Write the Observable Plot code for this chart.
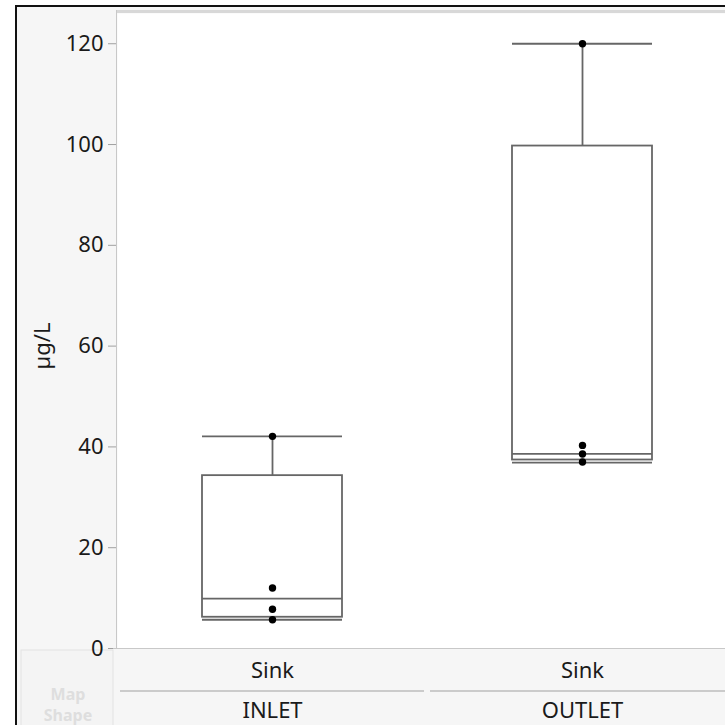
<!DOCTYPE html>
<html>
<head>
<meta charset="utf-8">
<script src="https://cdn.jsdelivr.net/npm/d3@7"></script>
<script src="https://cdn.jsdelivr.net/npm/@observablehq/plot@0.6"></script>
<style>
  html, body { margin: 0; padding: 0; background: #ffffff; }
  #wrap { position: absolute; left: 15px; top: 5px; border-left: 2px solid #111; border-top: 2px solid #111; width: 708px; height: 718px; overflow: hidden; }
  #wrap svg { display: block; }
</style>
</head>
<body>
<div id="wrap"></div>
<script>
// ---- data ----
const groups       = ["INLET", "OUTLET"];
const subLabels    = ["Sink", "Sink"];
const whiskerLow   = [5.7, 36.9];
const quartile1    = [6.2, 37.4];
const medians      = [9.9, 38.6];
const quartile3    = [34.3, 99.7];
const whiskerHigh  = [42.1, 120];
const pointGroup   = ["INLET", "INLET", "INLET", "INLET", "OUTLET", "OUTLET", "OUTLET", "OUTLET"];
const pointValue   = [42.1, 12.0, 7.8, 5.7, 120, 40.3, 38.6, 37.0];
const yTicks       = [0, 20, 40, 60, 80, 100, 120];
const yLabel       = "µg/L";

const boxes = groups.map((g, i) => ({
  group: g, sub: subLabels[i], lo: whiskerLow[i], q1: quartile1[i],
  med: medians[i], q3: quartile3[i], hi: whiskerHigh[i]
}));
const points = pointGroup.map((g, i) => ({group: g, value: pointValue[i]}));

const W = 708, H = 718;
const boxStroke = "#666666";
const sw = 1.8;
const inset = 85;
const txt = "#1a1a1a";

const plot = Plot.plot({
  width: W, height: H,
  marginLeft: 100, marginRight: 0, marginTop: 6, marginBottom: 77,
  style: {background: "#f6f6f6", fontFamily: "'Noto Sans', sans-serif", fontSize: "22px", color: txt, overflow: "visible"},
  x: {domain: groups, range: [100, 720], padding: 0, axis: null},
  y: {domain: [0, 126], axis: null},
  marks: [
    Plot.frame({fill: "white", stroke: null}),
    Plot.axisY({ticks: yTicks, tickSize: 9, tickPadding: 5, fontSize: 22, stroke: "#a0a0a0", fill: txt, label: null, tickFormat: d => d}),
    Plot.ruleX(boxes, {x: "group", y1: "q3", y2: "hi", stroke: boxStroke, strokeWidth: sw}),
    Plot.ruleX(boxes, {x: "group", y1: "lo", y2: "q1", stroke: boxStroke, strokeWidth: sw}),
    Plot.barY(boxes, {x: "group", y1: "q1", y2: "q3", fill: "white", stroke: boxStroke, strokeWidth: sw, insetLeft: inset, insetRight: inset}),
    Plot.tickY(boxes, {x: "group", y: "med", stroke: boxStroke, strokeWidth: sw, insetLeft: inset, insetRight: inset}),
    Plot.tickY(boxes, {x: "group", y: "hi", stroke: boxStroke, strokeWidth: sw, insetLeft: inset, insetRight: inset}),
    Plot.tickY(boxes, {x: "group", y: "lo", stroke: boxStroke, strokeWidth: sw, insetLeft: inset, insetRight: inset}),
    Plot.dot(points, {x: "group", y: "value", r: 3.7, fill: "black", stroke: null}),
    Plot.text([yLabel], {frameAnchor: "left", textAnchor: "middle", lineAnchor: "middle", dx: -75, dy: 15, rotate: -90, fontSize: 22, fill: txt}),
    Plot.text(boxes, {x: "group", text: "sub", frameAnchor: "bottom", lineAnchor: "middle", dy: 22, fontSize: 22, fill: txt}),
    Plot.text(boxes, {x: "group", text: "group", frameAnchor: "bottom", lineAnchor: "middle", dy: 62, fontSize: 22, fill: txt})
  ]
});

// decorations: panel borders, separators, faded "Map Shape" box
const svgSel = d3.select(plot);
const xs = plot.scale("x");
const bw = xs.bandwidth;
const bottomY = H - 77;
const under = svgSel.insert("g", ":first-child");
under.append("rect").attr("x", 4).attr("y", bottomY + 2).attr("width", 92).attr("height", 80)
  .attr("fill", "#f4f4f4").attr("stroke", "#e2e2e2");
under.append("text").attr("x", 51).attr("y", bottomY + 52).attr("text-anchor", "middle")
  .attr("font-family", "'Noto Sans', sans-serif").attr("font-size", 16).attr("font-weight", "bold").attr("fill", "#dedede").text("Map");
under.append("text").attr("x", 51).attr("y", bottomY + 73).attr("text-anchor", "middle")
  .attr("font-family", "'Noto Sans', sans-serif").attr("font-size", 16).attr("font-weight", "bold").attr("fill", "#dedede").text("Shape");
const over = svgSel.append("g");
over.append("rect").attr("x", 100).attr("y", 3).attr("width", W - 100).attr("height", 3).attr("fill", "#d8d8d8");
over.append("line").attr("x1", 96).attr("x2", W).attr("y1", bottomY + 0.5).attr("y2", bottomY + 0.5).attr("stroke", "#c8c8c8");
over.append("line").attr("x1", 99.5).attr("x2", 99.5).attr("y1", 3).attr("y2", bottomY).attr("stroke", "#c8c8c8");
groups.forEach(g => {
  const x0 = xs.apply(g);
  over.append("line").attr("x1", x0 + 3).attr("x2", x0 + bw - 3)
    .attr("y1", bottomY + 43).attr("y2", bottomY + 43).attr("stroke", "#bdbdbd").attr("stroke-width", 1.5);
});

document.getElementById("wrap").appendChild(plot);
</script>
</body>
</html>
